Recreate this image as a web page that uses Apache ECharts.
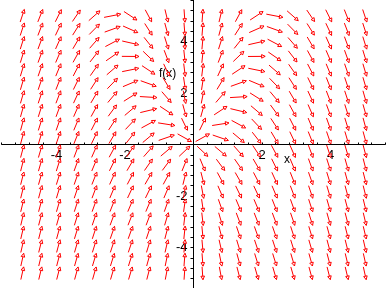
<!DOCTYPE html>
<html>
<head>
<meta charset="utf-8">
<script src="https://cdn.jsdelivr.net/npm/echarts@6/dist/echarts.min.js"></script>
<style>
html,body{margin:0;padding:0;background:#fff;}
#c{width:388px;height:288px;}
</style>
</head>
<body>
<div id="c"></div>
<script>
// grid of field points (x and y)
const xs = [-5, -4.474, -3.947, -3.421, -2.895, -2.368, -1.842, -1.316, -0.789, -0.263, 0.263, 0.789, 1.316, 1.842, 2.368, 2.895, 3.421, 3.947, 4.474, 5];
const ys = [-5, -4.474, -3.947, -3.421, -2.895, -2.368, -1.842, -1.316, -0.789, -0.263, 0.263, 0.789, 1.316, 1.842, 2.368, 2.895, 3.421, 3.947, 4.474, 5];
// slope of each arrow, one row per y value (bottom to top), columns follow xs
const slopes = [
  [6.00, 5.59, 5.21, 4.88, 4.62, 4.48, 4.56, 5.12, 7.12, 19.26, -19.26, -7.12, -5.12, -4.56, -4.48, -4.62, -4.88, -5.21, -5.59, -6.00],
  [5.89, 5.47, 5.08, 4.73, 4.44, 4.26, 4.27, 4.72, 6.46, 17.26, -17.26, -6.46, -4.72, -4.27, -4.26, -4.44, -4.73, -5.08, -5.47, -5.89],
  [5.79, 5.36, 4.95, 4.58, 4.26, 4.03, 3.98, 4.32, 5.79, 15.26, -15.26, -5.79, -4.32, -3.98, -4.03, -4.26, -4.58, -4.95, -5.36, -5.79],
  [5.68, 5.24, 4.81, 4.42, 4.08, 3.81, 3.70, 3.92, 5.12, 13.26, -13.26, -5.12, -3.92, -3.70, -3.81, -4.08, -4.42, -4.81, -5.24, -5.68],
  [5.58, 5.12, 4.68, 4.27, 3.89, 3.59, 3.41, 3.52, 4.46, 11.26, -11.26, -4.46, -3.52, -3.41, -3.59, -3.89, -4.27, -4.68, -5.12, -5.58],
  [5.47, 5.00, 4.55, 4.11, 3.71, 3.37, 3.13, 3.12, 3.79, 9.26, -9.26, -3.79, -3.12, -3.13, -3.37, -3.71, -4.11, -4.55, -5.00, -5.47],
  [5.37, 4.89, 4.41, 3.96, 3.53, 3.15, 2.84, 2.72, 3.12, 7.26, -7.26, -3.12, -2.72, -2.84, -3.15, -3.53, -3.96, -4.41, -4.89, -5.37],
  [5.26, 4.77, 4.28, 3.81, 3.35, 2.92, 2.56, 2.32, 2.46, 5.26, -5.26, -2.46, -2.32, -2.56, -2.92, -3.35, -3.81, -4.28, -4.77, -5.26],
  [5.16, 4.65, 4.15, 3.65, 3.17, 2.70, 2.27, 1.92, 1.79, 3.26, -3.26, -1.79, -1.92, -2.27, -2.70, -3.17, -3.65, -4.15, -4.65, -5.16],
  [5.05, 4.53, 4.01, 3.50, 2.99, 2.48, 1.98, 1.52, 1.12, 1.26, -1.26, -1.12, -1.52, -1.98, -2.48, -2.99, -3.50, -4.01, -4.53, -5.05],
  [4.95, 4.42, 3.88, 3.34, 2.80, 2.26, 1.70, 1.12, 0.46, -0.74, 0.74, -0.46, -1.12, -1.70, -2.26, -2.80, -3.34, -3.88, -4.42, -4.95],
  [4.84, 4.30, 3.75, 3.19, 2.62, 2.04, 1.41, 0.72, -0.21, -2.74, 2.74, 0.21, -0.72, -1.41, -2.04, -2.62, -3.19, -3.75, -4.30, -4.84],
  [4.74, 4.18, 3.61, 3.04, 2.44, 1.81, 1.13, 0.32, -0.88, -4.74, 4.74, 0.88, -0.32, -1.13, -1.81, -2.44, -3.04, -3.61, -4.18, -4.74],
  [4.63, 4.06, 3.48, 2.88, 2.26, 1.59, 0.84, -0.08, -1.54, -6.74, 6.74, 1.54, 0.08, -0.84, -1.59, -2.26, -2.88, -3.48, -4.06, -4.63],
  [4.53, 3.94, 3.35, 2.73, 2.08, 1.37, 0.56, -0.48, -2.21, -8.74, 8.74, 2.21, 0.48, -0.56, -1.37, -2.08, -2.73, -3.35, -3.94, -4.53],
  [4.42, 3.83, 3.21, 2.58, 1.89, 1.15, 0.27, -0.88, -2.88, -10.74, 10.74, 2.88, 0.88, -0.27, -1.15, -1.89, -2.58, -3.21, -3.83, -4.42],
  [4.32, 3.71, 3.08, 2.42, 1.71, 0.92, -0.01, -1.28, -3.54, -12.74, 12.74, 3.54, 1.28, 0.01, -0.92, -1.71, -2.42, -3.08, -3.71, -4.32],
  [4.21, 3.59, 2.95, 2.27, 1.53, 0.70, -0.30, -1.68, -4.21, -14.74, 14.74, 4.21, 1.68, 0.30, -0.70, -1.53, -2.27, -2.95, -3.59, -4.21],
  [4.11, 3.47, 2.81, 2.11, 1.35, 0.48, -0.59, -2.08, -4.88, -16.74, 16.74, 4.88, 2.08, 0.59, -0.48, -1.35, -2.11, -2.81, -3.47, -4.11],
  [4.00, 3.36, 2.68, 1.96, 1.17, 0.26, -0.87, -2.48, -5.54, -18.74, 18.74, 5.54, 2.48, 0.87, -0.26, -1.17, -1.96, -2.68, -3.36, -4.00]
];
const xTickLabels = [-4, -2, 2, 4];
const yTickLabels = [-4, -2, 2, 4];
const xName = 'x';
const yName = 'f(x)';

const data = [];
for (let j = 0; j < ys.length; j++) {
  for (let i = 0; i < xs.length; i++) {
    data.push([xs[i], ys[j], slopes[j][i]]);
  }
}

const ARROW_LEN = 0.5; // in data units (normalized direction)
const RED = '#ff0000';

function renderArrow(params, api) {
  const x = api.value(0), y = api.value(1), s = api.value(2);
  const n = Math.sqrt(1 + s * s);
  const dx = ARROW_LEN / 2 / n, dy = ARROW_LEN * s / 2 / n;
  const p0 = api.coord([x - dx, y - dy]);
  const p1 = api.coord([x + dx, y + dy]);
  const ang = Math.atan2(p1[1] - p0[1], p1[0] - p0[0]);
  const c = Math.cos(ang), sn = Math.sin(ang);
  const h = 3.5, w = 1.8;
  const bx = p1[0] - h * c, by = p1[1] - h * sn;
  return {
    type: 'group',
    children: [
      { type: 'line', shape: { x1: p0[0], y1: p0[1], x2: p1[0], y2: p1[1] },
        style: { stroke: RED, lineWidth: 1 } },
      { type: 'polygon', shape: { points: [[p1[0], p1[1]], [bx - w * sn, by + w * c], [bx + w * sn, by - w * c]] },
        style: { stroke: RED, fill: '#ffffff', lineWidth: 1 } }
    ]
  };
}

function fmt(list) {
  return function (v) {
    const r = Math.round(v * 10) / 10;
    return list.indexOf(r) >= 0 ? String(r) : '';
  };
}

const GRID = { left: 1.7, top: 0.3, width: 383.6, height: 288.4 };
const X_MIN = -5.6, X_MAX = 5.6, Y_MIN = -5.6, Y_MAX = 5.6;
// offsets that put each axis on the other axis's zero
const xAxisOffset = -(GRID.height * (0 - Y_MIN) / (Y_MAX - Y_MIN));
const yAxisOffset = -(GRID.width * (0 - X_MIN) / (X_MAX - X_MIN));

const chart = echarts.init(document.getElementById('c'), null, { renderer: 'canvas' });
chart.setOption({
  animation: false,
  backgroundColor: '#ffffff',
  grid: Object.assign({ containLabel: false, outerBoundsMode: 'none' }, GRID),
  xAxis: {
    type: 'value', min: X_MIN, max: X_MAX, interval: 0.4, position: 'bottom', offset: xAxisOffset,
    axisLine: { onZero: false, lineStyle: { color: '#000', width: 1 } },
    axisTick: { inside: true, length: 2, lineStyle: { color: '#000' } },
    axisLabel: { formatter: fmt(xTickLabels), margin: 4, color: '#000', fontFamily: 'Liberation Sans', fontSize: 13 },
    splitLine: { show: false }
  },
  yAxis: {
    type: 'value', min: Y_MIN, max: Y_MAX, interval: 0.4, position: 'left', offset: yAxisOffset,
    axisLine: { onZero: false, lineStyle: { color: '#000', width: 1 } },
    axisTick: { inside: false, length: 3, lineStyle: { color: '#000' } },
    axisLabel: { formatter: fmt(yTickLabels), margin: 6, color: '#000', fontFamily: 'Liberation Sans', fontSize: 13 },
    splitLine: { show: false }
  },
  graphic: [
    { type: 'text', left: 284, top: 154, style: { text: xName, fill: '#000', font: '12px "Liberation Sans"' } },
    { type: 'text', left: 159, top: 68, style: { text: yName, fill: '#000', font: '12px "Liberation Sans"' } }
  ],
  series: [{
    type: 'custom',
    silent: true,
    clip: false,
    renderItem: renderArrow,
    data: data
  }]
});
</script>
</body>
</html>
